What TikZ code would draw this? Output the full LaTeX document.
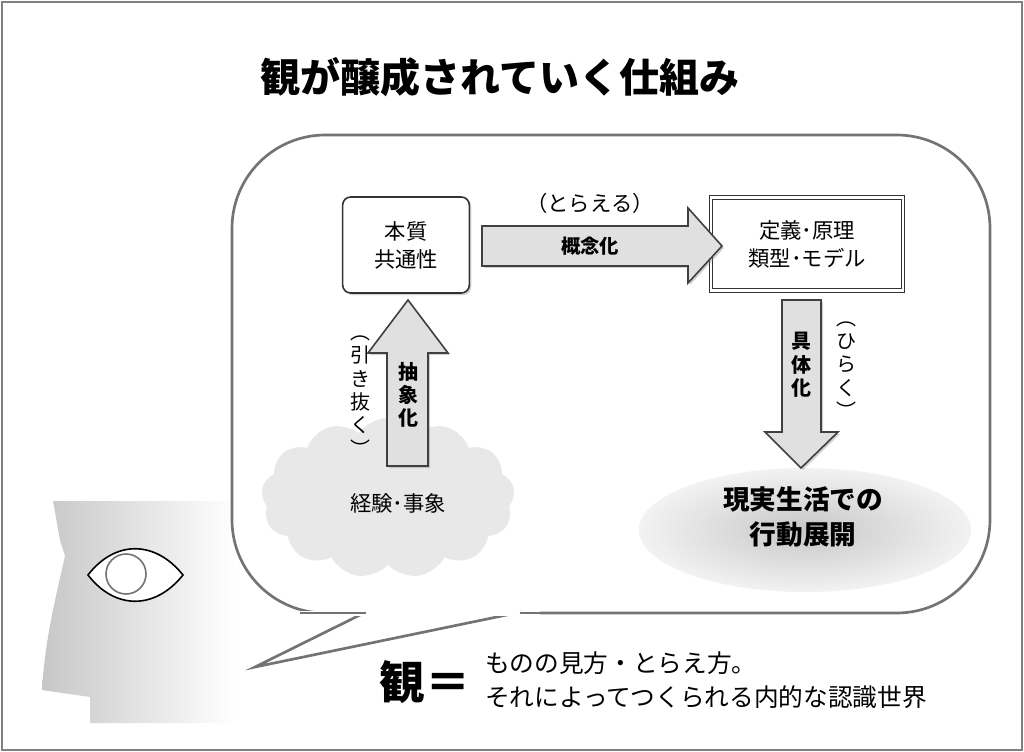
\documentclass[tikz,border=0pt]{standalone}
\usepackage{fontspec}
\setmainfont{Noto Sans CJK JP}
\usetikzlibrary{shadows,shapes.symbols}
\begin{document}
\begin{tikzpicture}[x=0.75pt,y=-0.75pt,
  box/.style={draw=black!80,line width=1.2pt,fill=white},
  fat/.style={draw=black!75,line width=1.2pt,fill=black!12,line join=miter,drop shadow={shadow xshift=1.5pt,shadow yshift=-1.5pt,opacity=0.35}},
  lbl/.style={font=\fontsize{16}{21}\selectfont,align=center,inner sep=0pt},
  vlbl/.style={font=\fontsize{15}{17.5}\selectfont,align=center,inner sep=0pt}]
\useasboundingbox (0,0) rectangle (1024,752);
\draw[black!50,line width=1.5pt] (2,2) rectangle (1022,750);
% title
\node (title) at (500,77) {\fontsize{30}{34}\selectfont\bfseries 観が醸成されていく仕組み};
% face
\shade[left color=black!22,right color=white,shading angle=90]
  (53,501) -- (235,501) -- (235,723) -- (90,723) -- (90,697) -- (42,690)
  .. controls (45,640) and (55,600) .. (65,556) -- (60,540) -- cycle;
\draw[line width=1.2pt,fill=white] (88,575) .. controls (115,540) and (155,540) .. (183,575)
  .. controls (155,610) and (115,610) .. (88,575) -- cycle;
\draw[black!55,line width=1.2pt] (126,574) circle (20);
% bubble
\draw[black!55,line width=2pt,fill=white,rounded corners=70]
  (520,613) -- (990,613) -- (990,135) -- (232,135) -- (232,613) -- (365,613);
\draw[black!55,line width=2pt,fill=white,line join=miter] (366,612) -- (255,667) -- (521,612);
\fill[white] (300,611) rectangle (540,616);
\draw[black!55,line width=2pt] (300,613) -- (366,613) (520,613) -- (560,613);
% cloud
\node[cloud,cloud puffs=13,cloud puff arc=110,fill=black!9,minimum width=190pt,minimum height=120pt,aspect=1.6] (cloud) at (388,498) {};
\node[font=\fontsize{16}{18}\selectfont] (exp) at (398,503) {経験･事象};
% ellipse
\shade[inner color=black!22,outer color=black!5] (805,530) ellipse (166 and 62);
\node[font=\fontsize{20}{26}\selectfont\bfseries,align=center] (act) at (803,517) {現実生活での\\行動展開};
% box 1
\node[box,rounded corners=6,minimum width=95pt,minimum height=72pt,lbl,drop shadow={shadow xshift=1.5pt,shadow yshift=-1.5pt,opacity=0.35}] (ess) at (406,245) {本質\\共通性};
% box 2 double
\node[box,double,double distance=2pt,line width=0.8pt,minimum width=144pt,minimum height=70pt,lbl] (def) at (807,244) {定義･原理\\類型･モデル};
% right arrow
\draw[fat] (482,226) -- (688,226) -- (688,208) -- (722,246) -- (688,283) -- (688,266) -- (482,266) -- cycle;
\node[lbl,font=\fontsize{14.5}{16}\selectfont\bfseries] (c1) at (590,246) {概念化};
\node[lbl] (c2) at (590,203) {（とらえる）};
% down arrow
\draw[fat] (782,300) -- (821,300) -- (821,432) -- (838,432) -- (801,468) -- (765,432) -- (782,432) -- cycle;
\node[vlbl,font=\fontsize{15}{17.5}\selectfont\bfseries] (d1) at (801,365) {具\\体\\化};
\node[vlbl] (d2) at (846,370) {︵\\ひ\\ら\\く\\︶};
% up arrow
\draw[fat] (408,300) -- (448,353) -- (428,353) -- (428,466) -- (387,466) -- (387,353) -- (368,353) -- cycle;
\node[vlbl,font=\fontsize{15}{17.5}\selectfont\bfseries] (u1) at (408,395) {抽\\象\\化};
\node[vlbl] (u2) at (360,396) {︵\\引\\き\\抜\\く\\︶};
% bottom definition
\node[font=\fontsize{34}{36}\selectfont\bfseries] (kan) at (425,682) {観＝};
\node[anchor=west,align=left,font=\fontsize{18.5}{25}\selectfont,inner sep=0pt] (defn) at (485,680) {ものの見方・とらえ方。\\それによってつくられる内的な認識世界};
\end{tikzpicture}
\end{document}
